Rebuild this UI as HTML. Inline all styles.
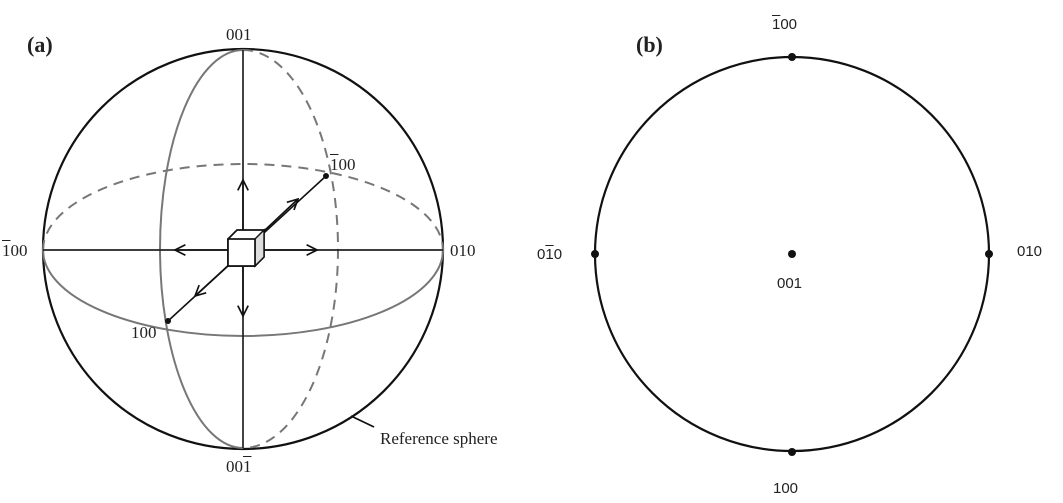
<!DOCTYPE html>
<html><head><style>
body{margin:0;width:1063px;height:503px;background:#fff;position:relative;overflow:hidden}
.t{position:absolute;font-family:"Liberation Serif",serif;font-size:17px;color:#222;white-space:nowrap;line-height:1}
.s{position:absolute;font-family:"Liberation Sans",sans-serif;font-size:15px;color:#222;white-space:nowrap;line-height:1}
.o{text-decoration:overline}
.b{font-weight:bold;font-size:22px}
</style></head><body>
<svg width="1063" height="503" style="position:absolute;left:0;top:0">
<defs><marker id="a" viewBox="0 0 10 10" refX="9" refY="5" markerWidth="13" markerHeight="13" orient="auto" markerUnits="userSpaceOnUse"><path d="M1 1L9 5L1 9" fill="none" stroke="#111" stroke-width="1.3"/></marker></defs>
<g fill="none" stroke-width="2">
<circle cx="243" cy="249" r="200" stroke="#111" stroke-width="2.2"/>
<path d="M43 250 A200 86 0 0 0 443 250" stroke="#777"/>
<path d="M43 250 A200 86 0 0 1 443 250" stroke="#777" stroke-dasharray="10 7"/>
<path d="M243 50 A83 199 0 0 0 243 448" stroke="#777"/>
<path d="M243 50 A95 199 0 0 1 243 448" stroke="#777" stroke-dasharray="10 7"/>
<line x1="243" y1="50" x2="243" y2="448" stroke="#222" stroke-width="1.7"/>
<line x1="43" y1="250" x2="443" y2="250" stroke="#222" stroke-width="1.7"/>
<line x1="168" y1="321" x2="326" y2="176" stroke="#111" stroke-width="1.6"/>
<line x1="243" y1="238" x2="243" y2="180" stroke="#111" stroke-width="1.6" marker-end="url(#a)"/>
<line x1="243" y1="266" x2="243" y2="316" stroke="#111" stroke-width="1.6" marker-end="url(#a)"/>
<line x1="228" y1="250" x2="175" y2="250" stroke="#111" stroke-width="1.6" marker-end="url(#a)"/>
<line x1="264" y1="250" x2="317" y2="250" stroke="#111" stroke-width="1.6" marker-end="url(#a)"/>
<line x1="264" y1="231" x2="298" y2="199" stroke="#111" stroke-width="1.6" marker-end="url(#a)"/>
<line x1="232" y1="262" x2="195" y2="296" stroke="#111" stroke-width="1.6" marker-end="url(#a)"/>
<path d="M228 239 L237 230 L264 230 L264 257 L255 266 L228 266 Z" fill="#fff" stroke="#111" stroke-width="1.7"/>
<path d="M255 239 L264 230 L264 257 L255 266 Z" fill="#ddd" stroke="#111" stroke-width="1.4"/>
<rect x="228" y="239" width="27" height="27" fill="#fff" stroke="#111" stroke-width="1.7"/>
<line x1="351" y1="416" x2="374" y2="427" stroke="#111" stroke-width="1.8"/>
<circle cx="792" cy="254" r="197" stroke="#111" stroke-width="2.2"/>
</g>
<g fill="#111">
<circle cx="326" cy="176" r="3"/><circle cx="168" cy="321" r="3"/>
<circle cx="792" cy="57" r="4"/><circle cx="792" cy="452" r="4"/>
<circle cx="595" cy="254" r="4"/><circle cx="989" cy="254" r="4"/>
<circle cx="792" cy="254" r="4"/>
</g>
</svg>
<div class="t b" style="left:27px;top:34px">(a)</div>
<div class="t" style="left:226px;top:26px">001</div>
<div class="t" style="left:226px;top:458px">00<span class="o">1</span></div>
<div class="t" style="left:2px;top:242px"><span class="o">1</span>00</div>
<div class="t" style="left:450px;top:242px">010</div>
<div class="t" style="left:330px;top:156px"><span class="o">1</span>00</div>
<div class="t" style="left:131px;top:324px">100</div>
<div class="t" style="left:380px;top:430px">Reference sphere</div>
<div class="t b" style="left:636px;top:34px">(b)</div>
<div class="s" style="left:772px;top:17px"><span class="o">1</span>00</div>
<div class="s" style="left:773px;top:481px">100</div>
<div class="s" style="left:537px;top:247px">0<span class="o">1</span>0</div>
<div class="s" style="left:1017px;top:244px">010</div>
<div class="s" style="left:777px;top:276px">001</div>
</body></html>
